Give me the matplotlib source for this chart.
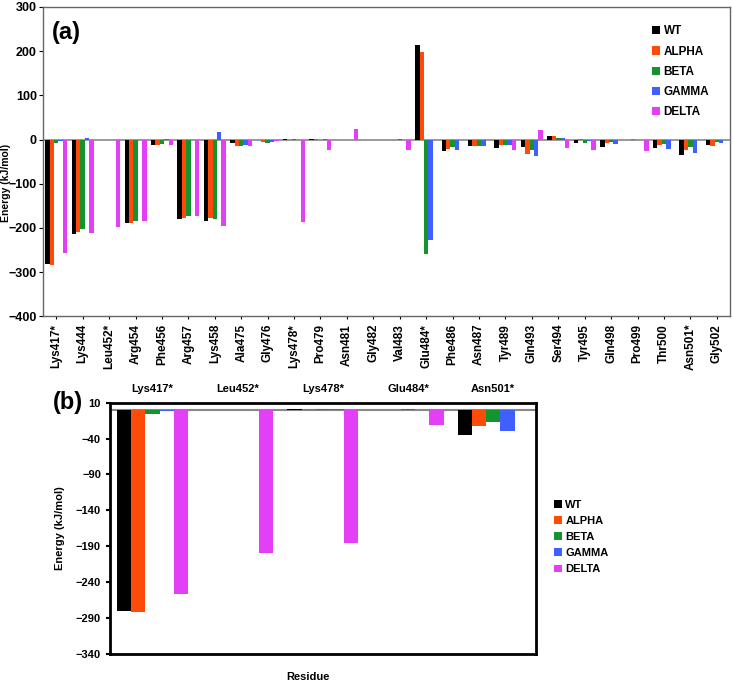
import matplotlib
matplotlib.use("Agg")
import matplotlib.pyplot as plt
import numpy as np

plt.rcParams['font.family'] = ['Liberation Sans', 'DejaVu Sans']
plt.rcParams['font.weight'] = 'bold'
plt.rcParams['axes.labelweight'] = 'bold'

# panel (a): all interface residues
residues = ['Lys417*', 'Lys444', 'Leu452*', 'Arg454', 'Phe456', 'Arg457', 'Lys458', 'Ala475',
            'Gly476', 'Lys478*', 'Pro479', 'Asn481', 'Gly482', 'Val483', 'Glu484*', 'Phe486',
            'Asn487', 'Tyr489', 'Gln493', 'Ser494', 'Tyr495', 'Gln498', 'Pro499', 'Thr500',
            'Asn501*', 'Gly502']
wt = [-281, -214, 0, -188, -12, -181, -184, -8, -2, 1, 2, 0, 0, 0, 213, -25, -15, -20, -18, 8, -7, -18, 0, -20, -36, -12]
alpha = [-284, -209, -1, -188, -12, -178, -178, -14, -5, 0, 2, 0, 0, 0, 199, -21, -14, -13, -32, 7, 1, -7, 1, -12, -23, -14]
beta = [-7, -203, -1, -184, -11, -173, -180, -14, -9, 2, 0, 0, 0, 1, -260, -18, -14, -13, -24, 3, -7, -6, 0, -11, -17, -6]
gamma = [-3, 3, 0, 0, 2, 0, 16, -12, -5, 0, 2, 0, 0, 0, -227, -23, -14, -13, -38, 3, -3, -11, 0, -21, -31, -7]
delta = [-258, -211, -199, -184, -12, -173, -195, -14, -4, -186, -23, 24, 0, -23, 0, 0, 0, -23, 21, -20, -23, 0, -26, 0, 0, 0]

# panel (b): mutated residues only
mut_residues = ['Lys417*', 'Leu452*', 'Lys478*', 'Glu484*', 'Asn501*']
wt_b = [-280, 0, 0.5, 0, -35]
alpha_b = [-281, -0.5, 0.5, 0, -22]
beta_b = [-6, -0.5, 1.5, 1, -17]
gamma_b = [-2, 0, 0.5, 0, -30]
delta_b = [-257, -199, -185, -21, 0]

variants = ['WT', 'ALPHA', 'BETA', 'GAMMA', 'DELTA']
colors = ['#000000', '#ff4a0a', '#13942f', '#3f5fff', '#e23ff7']

fig = plt.figure(figsize=(7.33, 6.83), dpi=100)

# ---- (a) ----
ax1 = fig.add_axes([0.0587, 0.537, 0.9373, 0.4528])
x = np.arange(len(residues))
w = 1 / 6
for i, (vals, name) in enumerate(zip([wt, alpha, beta, gamma, delta], variants)):
    ax1.bar(x + (i - 2) * w, vals, w, color=colors[i], label=name)
ax1.axhline(0, color='#888888', lw=1.2, zorder=0)
ax1.set_xlim(-0.5, len(residues) - 0.5)
ax1.set_ylim(-400, 300)
ax1.set_yticks(np.arange(-400, 301, 100))
ax1.set_xticks(x)
ax1.set_xticklabels(residues, rotation=90, fontsize=8.5)
ax1.tick_params(axis='y', labelsize=9, length=3, pad=1.5)
ax1.tick_params(axis='x', length=2)
for s in ax1.spines.values():
    s.set_color('#666666')
    s.set_linewidth(1)
ax1.set_ylabel('Energy (kJ/mol)', fontsize=7.5)
ax1.yaxis.set_label_coords(-0.0466, 0.43)
ax1.text(0.013, 0.895, '(a)', transform=ax1.transAxes, fontsize=17, fontweight='bold')
ax1.legend(loc='upper right', bbox_to_anchor=(0.985, 0.975), frameon=False, fontsize=8.5,
           handlelength=0.7, handleheight=0.7, handletextpad=0.3, labelspacing=0.7)

# ---- (b) ----
ax2 = fig.add_axes([0.150, 0.0425, 0.581, 0.368])
xb = np.arange(len(mut_residues))
for i, (vals, name) in enumerate(zip([wt_b, alpha_b, beta_b, gamma_b, delta_b], variants)):
    ax2.bar(xb + (i - 2) * w, vals, w, color=colors[i], label=name)
ax2.axhline(0, color='#888888', lw=1.5, zorder=0)
ax2.set_xlim(-0.5, len(mut_residues) - 0.5)
ax2.set_ylim(-340, 10)
ax2.set_yticks(np.arange(-340, 11, 50))
ax2.xaxis.tick_top()
ax2.set_xticks(xb)
ax2.set_xticklabels(mut_residues, fontsize=8)
ax2.tick_params(axis='x', length=0, pad=6)
ax2.tick_params(axis='y', labelsize=8, length=3, width=1.5)
for s in ax2.spines.values():
    s.set_color('black')
    s.set_linewidth(2)
ax2.set_ylabel('Energy (kJ/mol)', fontsize=8, labelpad=8)
fig.text(308 / 733, 1 - 677 / 683, 'Residue', ha='center', va='center', fontsize=8, fontweight='bold')
fig.text(53 / 733, 1 - 402 / 683, '(b)', ha='left', va='center', fontsize=17, fontweight='bold')
ax2.legend(loc='center left', bbox_to_anchor=(1.02, 0.465), frameon=False, fontsize=8,
           handlelength=0.7, handleheight=0.7, handletextpad=0.3, labelspacing=0.55)

fig.savefig('out.png', dpi=100)
